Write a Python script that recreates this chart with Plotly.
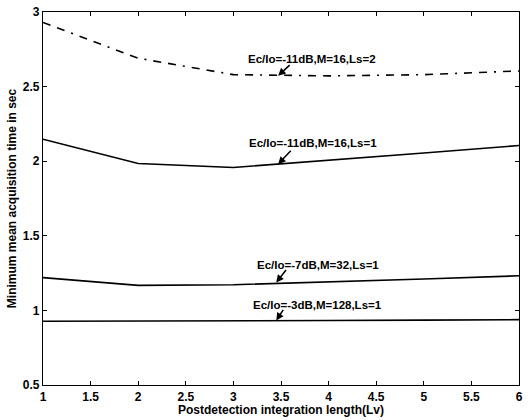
import plotly.graph_objects as go

lv = [1, 2, 3, 4, 5, 6]
t_11db_ls2 = [2.93, 2.69, 2.58, 2.572, 2.58, 2.605]
t_11db_ls1 = [2.147, 1.985, 1.958, 2.005, 2.055, 2.105]
t_7db_ls1 = [1.22, 1.168, 1.172, 1.19, 1.21, 1.232]
t_3db_ls1 = [0.927, 0.927, 0.93, 0.932, 0.935, 0.938]

labels = ["Ec/Io=-11dB,M=16,Ls=2", "Ec/Io=-11dB,M=16,Ls=1",
          "Ec/Io=-7dB,M=32,Ls=1", "Ec/Io=-3dB,M=128,Ls=1"]
label_x = [3.83, 3.84, 3.885, 3.885]
label_y = [2.687, 2.12, 1.307, 1.033]
tip_x = [3.47, 3.47, 3.45, 3.45]
tip_y = [2.573, 1.98, 1.187, 0.933]
tail_dx = [13, 14, 11, 8]
tail_dy = [-12, -15, -14, -12]

xticks = [1, 1.5, 2, 2.5, 3, 3.5, 4, 4.5, 5, 5.5, 6]
yticks = [0.5, 1, 1.5, 2, 2.5, 3]

FONT = "Liberation Sans"

fig = go.Figure()
series = [(t_11db_ls2, "8px,7px,8px,7px,2px,7px"), (t_11db_ls1, "solid"),
          (t_7db_ls1, "solid"), (t_3db_ls1, "solid")]
for ys, dash in series:
    fig.add_trace(go.Scatter(x=lv, y=ys, mode="lines",
                             line=dict(color="black", width=1.6, dash=dash),
                             showlegend=False, cliponaxis=False))

for i in range(4):
    fig.add_annotation(x=label_x[i], y=label_y[i], text="<b>" + labels[i] + "</b>",
                       showarrow=False, font=dict(family=FONT, size=11.5, color="black"))
    fig.add_annotation(x=tip_x[i], y=tip_y[i], text="", showarrow=True,
                       ax=tail_dx[i], ay=tail_dy[i], arrowhead=2, arrowsize=1,
                       arrowwidth=1.5, arrowcolor="black")

axis_common = dict(showline=True, linecolor="black", linewidth=1.2, mirror="ticks",
                   ticks="inside", ticklen=4, tickcolor="black", showgrid=False,
                   zeroline=False, tickfont=dict(family=FONT, size=12, color="black"))

fig.update_xaxes(range=[1, 6], tickvals=xticks, ticktext=["<b>%g</b>" % v for v in xticks],
                 title=dict(text="<b>Postdetection integration length(Lv)</b>",
                            font=dict(family=FONT, size=12, color="black"), standoff=1),
                 **axis_common)
fig.update_yaxes(range=[0.5, 3], tickvals=yticks, ticktext=["<b>%g</b>" % v for v in yticks],
                 title=dict(text="<b>Minimum mean acquisition time in sec</b>",
                            font=dict(family=FONT, size=12, color="black"), standoff=3),
                 **axis_common)

fig.update_layout(width=528, height=420, margin=dict(l=43, r=5, t=12, b=35),
                  plot_bgcolor="white", paper_bgcolor="white")

fig.write_html("out.html", config={"displayModeBar": False},
               post_script="document.body.style.margin='0px';")
